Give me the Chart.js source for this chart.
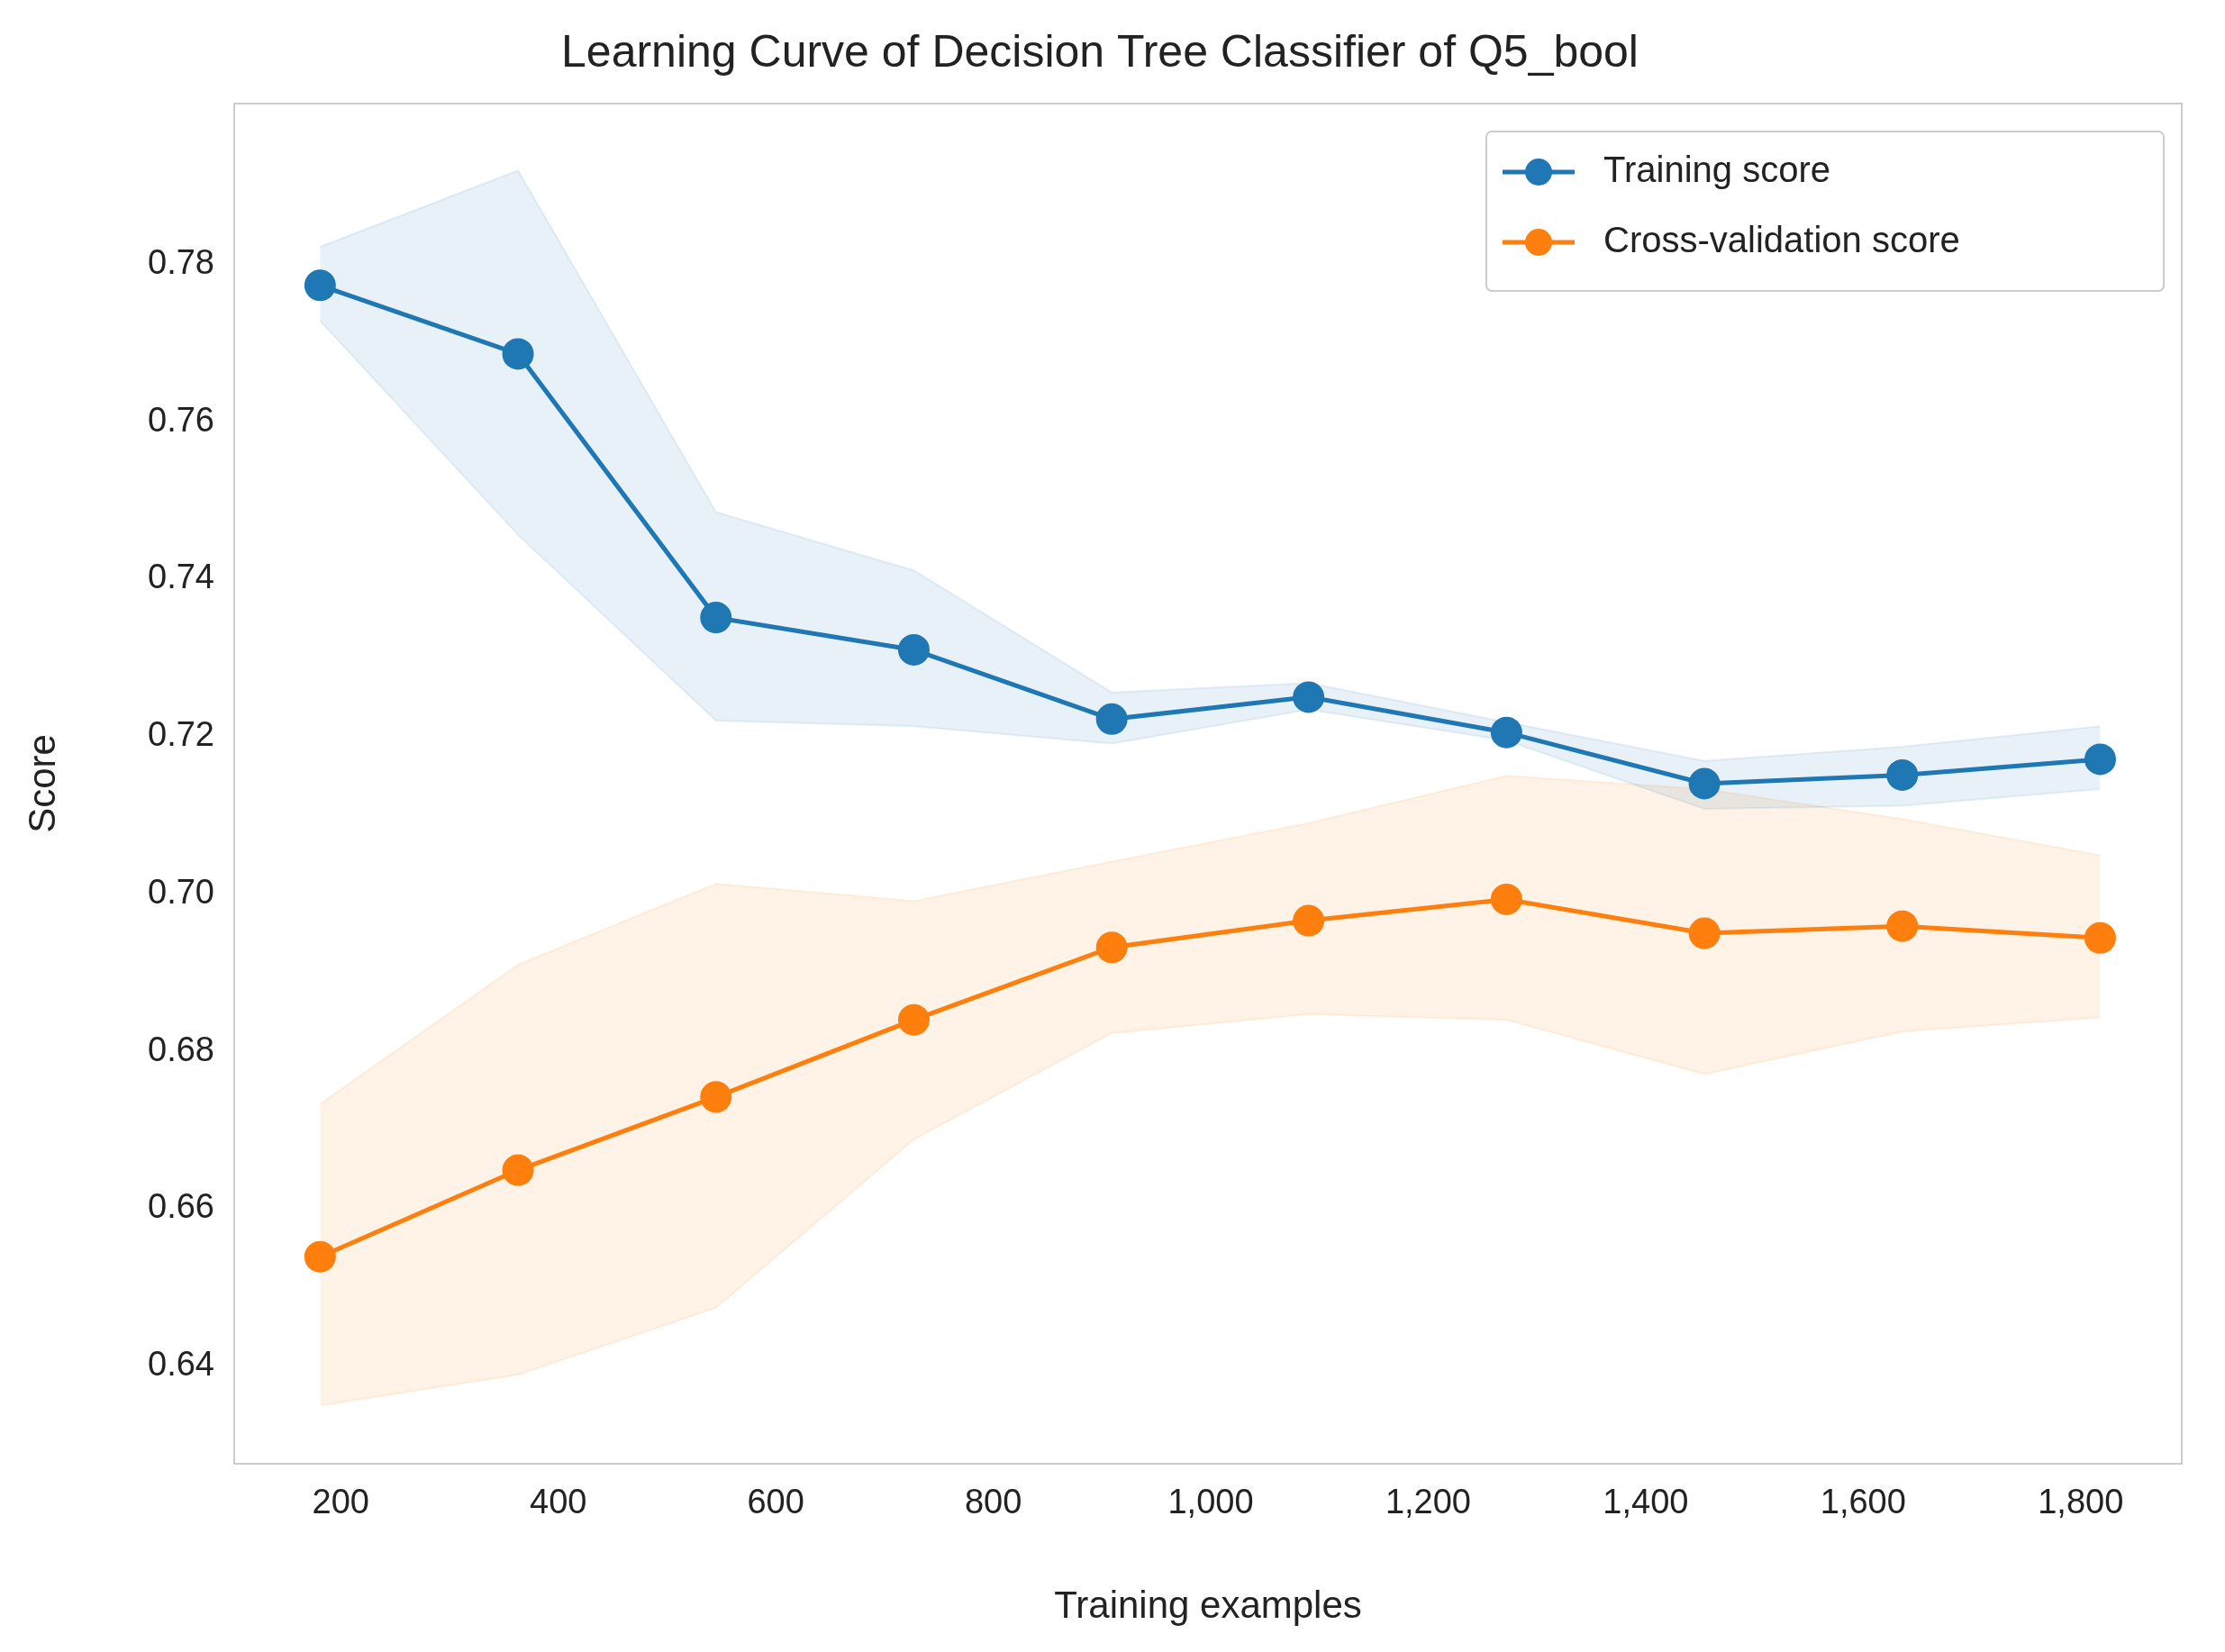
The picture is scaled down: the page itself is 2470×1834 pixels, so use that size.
<!DOCTYPE html>
<html>
<head>
<meta charset="utf-8">
<script src="https://cdn.jsdelivr.net/npm/chart.js@4"></script>
<style>
  html, body { margin: 0; padding: 0; background: #fff; }
  #wrap { width: 2470px; height: 1834px; }
</style>
</head>
<body>
<div id="wrap"><canvas id="chart" width="2470" height="1834"></canvas></div>
<script>
// training set sizes
const trainSizes = [181, 363, 545, 727, 909, 1090, 1272, 1454, 1636, 1818];
// mean scores
const trainScore = [0.7773, 0.7686, 0.7351, 0.7310, 0.7222, 0.7250, 0.7205, 0.7140, 0.7151, 0.7171];
const cvScore = [0.6539, 0.6649, 0.6742, 0.6840, 0.6932, 0.6966, 0.6993, 0.6950, 0.6959, 0.6944];
// +/- std bands
const trainUpper = [0.7822, 0.7919, 0.7485, 0.7411, 0.7256, 0.7268, 0.7218, 0.7169, 0.7187, 0.7213];
const trainLower = [0.7728, 0.7456, 0.7220, 0.7213, 0.7191, 0.7234, 0.7195, 0.7108, 0.7112, 0.7133];
const cvUpper = [0.6733, 0.6910, 0.7013, 0.6991, 0.7041, 0.7090, 0.7150, 0.7133, 0.7095, 0.7049];
const cvLower = [0.6350, 0.6389, 0.6474, 0.6688, 0.6823, 0.6847, 0.6840, 0.6771, 0.6825, 0.6843];
const xTicks = [200, 400, 600, 800, 1000, 1200, 1400, 1600, 1800];
const yTicks = [0.64, 0.66, 0.68, 0.70, 0.72, 0.74, 0.76, 0.78];
const legendItems = ['Training score', 'Cross-validation score'];
const lineColors = ['#1f77b4', '#ff7f0e'];

const pts = arr => arr.map((v, i) => ({ x: trainSizes[i], y: v }));
const FONT = 'Arial, "Liberation Sans", sans-serif';

// matplotlib style legend: frame, line + marker, label
const legendBox = {
    id: 'legendBox',
    afterDraw(chart) {
        const ctx = chart.ctx;
        const a = chart.chartArea;
        const w = 752, h = 177;
        const x0 = a.right - 20 - w, y0 = a.top + 31;
        ctx.save();
        ctx.fillStyle = 'rgba(255,255,255,0.8)';
        ctx.strokeStyle = '#cccccc';
        ctx.lineWidth = 2;
        ctx.beginPath();
        ctx.roundRect(x0, y0, w, h, 6);
        ctx.fill();
        ctx.stroke();
        ctx.font = '40px ' + FONT;
        ctx.textBaseline = 'middle';
        legendItems.forEach((label, i) => {
            const cy = y0 + 45 + i * 78;
            ctx.strokeStyle = lineColors[i];
            ctx.lineWidth = 5;
            ctx.beginPath();
            ctx.moveTo(x0 + 18, cy);
            ctx.lineTo(x0 + 98, cy);
            ctx.stroke();
            ctx.fillStyle = lineColors[i];
            ctx.beginPath();
            ctx.arc(x0 + 58, cy, 15, 0, Math.PI * 2);
            ctx.fill();
            ctx.fillStyle = '#222';
            ctx.fillText(label, x0 + 130, cy);
        });
        ctx.restore();
    }
};

const band = (data, color, fillTarget) => ({
    data: pts(data),
    borderColor: color,
    borderWidth: 2,
    backgroundColor: color,
    pointRadius: 0,
    fill: fillTarget,
    tension: 0,
    order: 2
});

new Chart(document.getElementById('chart'), {
    type: 'line',
    data: {
        datasets: [
            { label: 'Training score', data: pts(trainScore), borderColor: lineColors[0], backgroundColor: lineColors[0],
              borderWidth: 5, pointRadius: 15, pointHoverRadius: 15, order: 0 },
            { label: 'Cross-validation score', data: pts(cvScore), borderColor: lineColors[1], backgroundColor: lineColors[1],
              borderWidth: 5, pointRadius: 15, pointHoverRadius: 15, order: 0 },
            band(trainUpper, 'rgba(31,119,180,0.1)', false),
            band(trainLower, 'rgba(31,119,180,0.1)', 2),
            band(cvUpper, 'rgba(255,127,14,0.1)', false),
            band(cvLower, 'rgba(255,127,14,0.1)', 4)
        ]
    },
    options: {
        responsive: false,
        animation: false,
        layout: { padding: { left: 20, right: 48, top: 20, bottom: 20 } },
        plugins: {
            title: { display: true, text: 'Learning Curve of Decision Tree Classifier of Q5_bool',
                     color: '#222', font: { family: FONT, size: 50, weight: 'normal' }, padding: { top: 10, bottom: 25 } },
            legend: { display: false },
            tooltip: { enabled: false }
        },
        scales: {
            x: {
                type: 'linear', min: 102, max: 1893,
                afterBuildTicks: axis => { axis.ticks = xTicks.map(v => ({ value: v })); },
                afterFit: axis => { axis.height = 189; },
                grid: { display: false, drawTicks: false },
                border: { color: '#cccccc', width: 2 },
                ticks: { color: '#222', font: { family: FONT, size: 38 }, padding: 22 },
                title: { display: true, text: 'Training examples', color: '#222', font: { family: FONT, size: 42 }, padding: { top: 14 } }
            },
            y: {
                min: 0.6276, max: 0.8004,
                afterBuildTicks: axis => { axis.ticks = yTicks.map(v => ({ value: v })); },
                afterFit: axis => { axis.width = 240; },
                grid: { display: false, drawTicks: false },
                border: { color: '#cccccc', width: 2 },
                ticks: { callback: v => v.toFixed(2), color: '#222', font: { family: FONT, size: 38 }, padding: 22 },
                title: { display: true, text: 'Score', color: '#222', font: { family: FONT, size: 42 } }
            }
        }
    },
    plugins: [legendBox, {
        id: 'frame',
        beforeDraw(chart) {
            const a = chart.chartArea, ctx = chart.ctx;
            ctx.save();
            ctx.strokeStyle = '#cccccc'; ctx.lineWidth = 2;
            ctx.strokeRect(a.left, a.top, a.right - a.left, a.bottom - a.top);
            ctx.restore();
        }
    }]
});
</script>
</body>
</html>
